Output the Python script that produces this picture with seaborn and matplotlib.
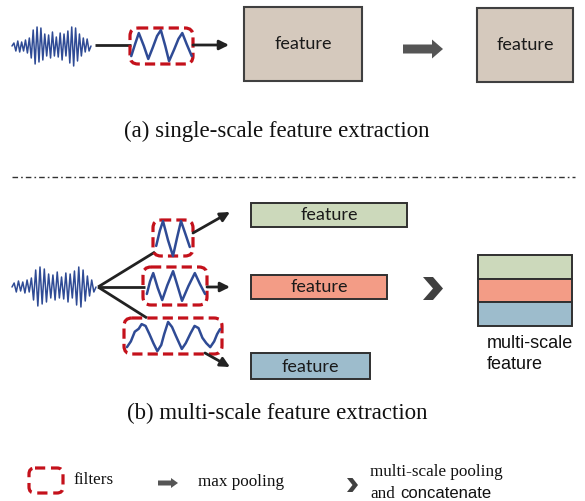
import numpy as np
import matplotlib
matplotlib.use("Agg")
import matplotlib.pyplot as plt
import seaborn as sns
from matplotlib.patches import FancyBboxPatch, Rectangle, Polygon, FancyArrow

sns.set_theme(style="white")
plt.rcParams['font.family'] = ['DejaVu Sans']

# ---------------- data ----------------
# raw input signals: alternating extrema offsets (px, positive = up)
signal_a = [3, -5, 5, -6, 4, -5, 6, -7, 8, -12, 16, -18, 19, -16, 18, -14, 12, -10,
            11, -12, 14, -10, 9, -11, 13, -14, 12, -10, 15, -17, 19, -20, 18, -15,
            12, -10, 8, -6, 7, -5]
signal_b = [4, -5, 6, -4, 5, -6, 7, -5, 9, -13, 17, -19, 20, -17, 18, -15, 13, -11,
            12, -13, 15, -11, 10, -12, 14, -15, 13, -11, 16, -18, 20, -20, 17, -14,
            11, -9, 7, -5]
# filter waveforms (t across box 0..1, v up box 0..1)
filt_a_t = [0.02, 0.08, 0.14, 0.22, 0.29, 0.36, 0.43, 0.49, 0.56, 0.62, 0.70, 0.77, 0.83, 0.90, 0.98]
filt_a_v = [0.22, 0.55, 0.86, 0.50, 0.14, 0.45, 0.78, 0.94, 0.50, 0.08, 0.40, 0.70, 0.86, 0.55, 0.22]
filt_b1_t = [0.08, 0.17, 0.25, 0.375, 0.50, 0.60, 0.70, 0.82, 0.92]
filt_b1_v = [0.28, 0.70, 0.97, 0.44, 0.00, 0.50, 0.97, 0.58, 0.25]
filt_b2_t = [0.06, 0.11, 0.16, 0.23, 0.30, 0.38, 0.47, 0.54, 0.61, 0.71, 0.81, 0.89, 0.97]
filt_b2_v = [0.29, 0.62, 0.84, 0.45, 0.13, 0.52, 0.89, 0.50, 0.11, 0.50, 0.84, 0.55, 0.29]
filt_b3_t = [0.03, 0.07, 0.11, 0.15, 0.18, 0.22, 0.26, 0.30, 0.34, 0.38, 0.41, 0.45, 0.49,
             0.53, 0.59, 0.63, 0.68, 0.72, 0.76, 0.80, 0.84, 0.88, 0.92, 0.95, 0.98]
filt_b3_v = [0.19, 0.35, 0.62, 0.70, 0.83, 0.78, 0.55, 0.30, 0.08, 0.25, 0.55, 0.89, 0.75,
             0.50, 0.14, 0.30, 0.58, 0.78, 0.72, 0.45, 0.30, 0.19, 0.35, 0.55, 0.69]

feature_labels = ["feature", "feature", "feature"]
feature_colors = ["#ccd9bb", "#f39c86", "#9dbccc"]
caption_a = "(a) single-scale feature extraction"
caption_b = "(b) multi-scale feature extraction"
legend_labels = ["filters", "max pooling", "multi-scale pooling", "and", "concatenate"]
multi_label = "multi-scale\nfeature"

# ---------------- styles ----------------
W, H = 585, 501
BLUE = "#2f4b95"
RED = "#c4111b"
DARK = "#222222"
GRAY = "#555555"
BEIGE = "#d5c9bd"
BOXF = "Lato"
SERIF = "Liberation Serif"
SANS = "Liberation Sans"

fig = plt.figure(figsize=(W / 100, H / 100), dpi=100)
ax = fig.add_axes([0, 0, 1, 1])
ax.set_xlim(0, W)
ax.set_ylim(H, 0)
ax.axis("off")


def draw_signal(vals, x0, x1, yc):
    n = len(vals)
    xs = np.linspace(x0, x1, n + 2)
    ys = [yc] + [yc - v for v in vals] + [yc]
    sns.lineplot(x=xs, y=ys, ax=ax, sort=False, color=BLUE, lw=1.1, estimator=None)


def draw_filter(t, v, x, y, w, h):
    box = FancyBboxPatch((x, y), w, h, boxstyle="round,pad=0,rounding_size=8",
                         fill=False, ec=RED, lw=2.3, ls=(0, (3.2, 1.6)), zorder=3)
    ax.add_patch(box)
    xs = [x + ti * w for ti in t]
    ys = [y + h - vi * h for vi in v]
    sns.lineplot(x=xs, y=ys, ax=ax, sort=False, color=BLUE, lw=1.8, estimator=None, zorder=4)


def arrow(p0, p1, ms=14):
    ax.annotate("", xy=p1, xytext=p0,
                arrowprops=dict(arrowstyle="-|>", color=DARK, lw=2.0, mutation_scale=ms,
                                shrinkA=0, shrinkB=0))


def line(p0, p1):
    ax.plot([p0[0], p1[0]], [p0[1], p1[1]], color=DARK, lw=2.0, solid_capstyle="butt")


def fat_arrow(x, y, length, body, head_w, head_l):
    ax.add_patch(FancyArrow(x, y, length, 0, width=body, head_width=head_w,
                            head_length=head_l, length_includes_head=True,
                            color=GRAY, lw=0))


def chevron(x, y, w, h):
    pts = [(x, y), (x + w * 0.5, y), (x + w, y + h / 2), (x + w * 0.5, y + h),
           (x, y + h), (x + w * 0.5, y + h / 2)]
    ax.add_patch(Polygon(pts, closed=True, color="#404040", lw=0))


# ---------------- (a) single scale ----------------
draw_signal(signal_a, 12, 91, 46)
line((95, 45), (131, 45))
draw_filter(filt_a_t, filt_a_v, 130, 28, 63, 36)
arrow((193, 45), (229, 45))
ax.add_patch(Rectangle((244, 7), 118, 74, fc=BEIGE, ec="#404040", lw=1.5))
ax.text(303, 44, "feature", ha="center", va="center", fontsize=13, family=BOXF, color="#1a1a1a")
fat_arrow(403, 49, 40, 9, 19, 11)
ax.add_patch(Rectangle((477, 8), 96, 74, fc=BEIGE, ec="#404040", lw=1.5))
ax.text(525, 45, "feature", ha="center", va="center", fontsize=13, family=BOXF, color="#1a1a1a")
ax.text(277, 131, caption_a, ha="center", va="center", fontsize=16.5, family=SERIF, color="#111111")

# separator
ax.plot([12, 575], [177, 177], color="#333333", lw=1.0, ls=(0, (4, 2.2, 1.2, 2.2)))

# ---------------- (b) multi scale ----------------
draw_signal(signal_b, 12, 96, 287)
line((98, 287), (155, 252))
line((98, 287), (145, 287))
line((98, 287), (147, 318))
draw_filter(filt_b1_t, filt_b1_v, 153, 220, 40, 36)
draw_filter(filt_b2_t, filt_b2_v, 143, 267, 64, 38)
draw_filter(filt_b3_t, filt_b3_v, 124, 318, 98, 36)
arrow((193, 233), (230, 212))
arrow((207, 287), (230, 287))
arrow((205, 353), (230, 367))

bars = [(251, 203, 156, 24), (251, 275, 136, 24), (251, 353, 119, 26)]
for (bx, by, bw, bh), c, lab in zip(bars, feature_colors, feature_labels):
    ax.add_patch(Rectangle((bx, by), bw, bh, fc=c, ec="#303030", lw=1.4))
    ax.text(bx + bw / 2, by + bh / 2 + 0.5, lab, ha="center", va="center",
            fontsize=13, family=BOXF, color="#1a1a1a")

chevron(423, 277, 20, 23)

stack = [(255, 24), (279, 23), (302, 24)]
for (sy, sh), c in zip(stack, feature_colors):
    ax.add_patch(Rectangle((478, sy), 94, sh, fc=c, ec="#303030", lw=1.4))
ax.text(487, 354, multi_label, ha="left", va="center", fontsize=13, family=SANS,
        color="#111111", linespacing=1.3)

ax.text(277, 413, caption_b, ha="center", va="center", fontsize=16.5, family=SERIF, color="#111111")

# ---------------- legend ----------------
ax.add_patch(FancyBboxPatch((29, 468), 34, 25, boxstyle="round,pad=0,rounding_size=6",
                            fill=False, ec=RED, lw=2.3, ls=(0, (3.2, 1.8))))
ax.text(73, 480, legend_labels[0], ha="left", va="center", fontsize=12.3, family=SERIF, color="#111111")
fat_arrow(158, 483, 20, 5, 10, 7)
ax.text(198, 482, legend_labels[1], ha="left", va="center", fontsize=12.3, family=SERIF, color="#111111")
chevron(347, 478, 11, 14)
ax.text(370, 472, legend_labels[2], ha="left", va="center", fontsize=12.3, family=SERIF, color="#111111")
ax.text(370, 494, legend_labels[3], ha="left", va="center", fontsize=12.3, family=SERIF, color="#111111")
ax.text(400, 494, legend_labels[4], ha="left", va="center", fontsize=12, family=SANS, color="#111111")

fig.savefig("out.png", dpi=100, facecolor="white")
